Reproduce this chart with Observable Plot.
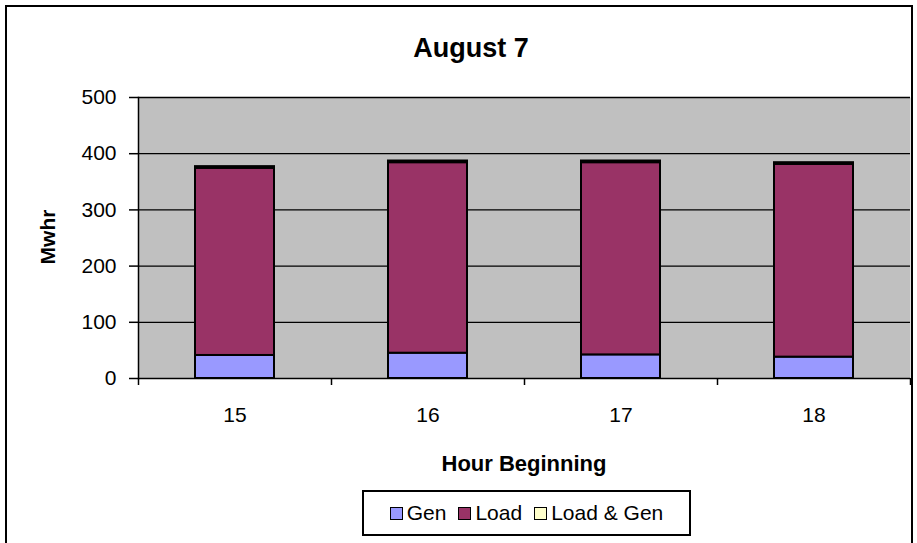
<!DOCTYPE html>
<html><head><meta charset="utf-8">
<script src="https://cdn.jsdelivr.net/npm/d3@7"></script>
<script src="https://cdn.jsdelivr.net/npm/@observablehq/plot@0.6"></script>
<style>
body{margin:0;background:#fff;font-family:"Liberation Sans",Arial,sans-serif;}
#wrap{position:relative;width:917px;height:543px;overflow:hidden;background:#fff;}
#frame{position:absolute;left:5px;top:5px;width:908px;height:600px;border:2px solid #000;box-sizing:border-box;}
#chart{position:absolute;left:0;top:0;}
.t{position:absolute;color:#000;white-space:nowrap;}
#title{top:33px;left:471px;transform:translateX(-50%);font-size:27px;font-weight:bold;}
#ylab{left:48px;top:237px;transform:translate(-50%,-50%) rotate(-90deg);font-size:21px;font-weight:bold;}
#xlab{left:524px;top:451px;transform:translateX(-50%);font-size:22px;font-weight:bold;}
#legend{position:absolute;left:362px;top:490px;width:329px;height:46px;border:2px solid #000;box-sizing:border-box;background:#fff;display:flex;align-items:center;justify-content:center;gap:12px;font-size:21px;}
#legend .it{display:flex;align-items:center;gap:4px;}
#legend .sw{width:11px;height:11px;border:1.5px solid #000;}
</style>
</head><body>
<div id="wrap">
  <div id="frame"></div>
  <div id="chart"></div>
  <div class="t" id="title">August 7</div>
  <div class="t" id="ylab">Mwhr</div>
  <div class="t" id="xlab">Hour Beginning</div>
  <div id="legend"></div>
</div>
<script>
const hours = ["15", "16", "17", "18"];
const series = ["Gen", "Load", "Load & Gen"];
const colors = ["#9999ff", "#993366", "#ffffcc"];
const gen = [41, 45, 42, 38];
const load = [333, 339, 342, 343];
const loadGen = [3, 3, 3, 3];
const yTicks = [0, 100, 200, 300, 400, 500];

const values = {"Gen": gen, "Load": load, "Load & Gen": loadGen};
const data = [];
series.forEach(s => hours.forEach((h, i) => data.push({hour: h, series: s, value: values[s][i]})));

const W = 917, H = 543, ML = 138, MR = 7, MT = 97, MB = 165;
const step = (W - ML - MR) / hours.length;

const plot = Plot.plot({
  width: W, height: H,
  marginLeft: ML, marginRight: MR, marginTop: MT, marginBottom: MB,
  style: {fontFamily: "'Liberation Sans', Arial, sans-serif", fontSize: "21px", color: "#000", background: "transparent"},
  x: {type: "band", domain: hours, paddingInner: 0.59, paddingOuter: 0.295, label: null},
  y: {domain: [0, 500], label: null},
  color: {domain: series, range: colors},
  marks: [
    Plot.frame({fill: "#c0c0c0", stroke: null}),
    Plot.gridY(yTicks.filter(d => d > 0), {stroke: "#000", strokeOpacity: 1, strokeWidth: 1.3}),
    Plot.barY(data, {x: "hour", y: "value", fill: "series", stroke: "#000", strokeWidth: 2, order: series}),
    Plot.frame({anchor: "left", stroke: "#000", strokeWidth: 1.5}),
    Plot.ruleY([0], {stroke: "#000", strokeWidth: 1.5}),
    Plot.ruleX(hours, {x: d => d, y1: 0, y2: 0, insetBottom: -7, dx: -step / 2, stroke: "#000", strokeWidth: 1.5}),
    Plot.ruleX(hours.slice(-1), {x: d => d, y1: 0, y2: 0, insetBottom: -7, dx: step / 2, stroke: "#000", strokeWidth: 1.5}),
    Plot.axisY({ticks: yTicks, tickSize: 9, tickPadding: 13, stroke: "#000", strokeWidth: 1.5, fontSize: 21, label: null}),
    Plot.axisX({tickSize: 0, tickPadding: 29, fontSize: 21, label: null})
  ]
});
document.getElementById("chart").appendChild(plot);

const lg = document.getElementById("legend");
series.forEach((s, i) => {
  const it = document.createElement("div");
  it.className = "it";
  const sw = document.createElement("div");
  sw.className = "sw";
  sw.style.background = colors[i];
  const tx = document.createElement("span");
  tx.textContent = s;
  it.appendChild(sw); it.appendChild(tx);
  lg.appendChild(it);
});
</script>
</body></html>
